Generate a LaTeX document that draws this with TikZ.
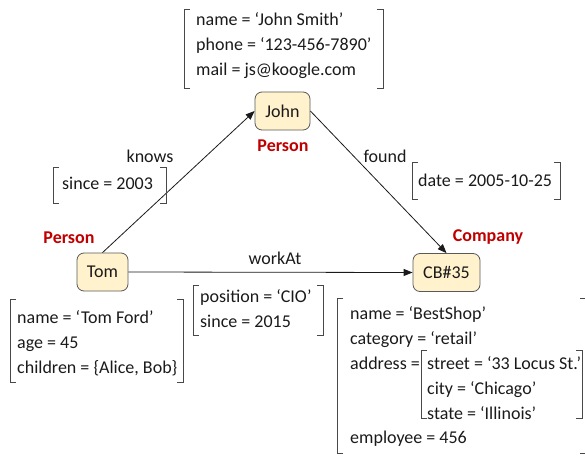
\documentclass[tikz,border=0pt]{standalone}
\usepackage{fontspec}
\setmainfont{Carlito}
\usetikzlibrary{arrows.meta}
\definecolor{nodefill}{RGB}{255,242,204}
\definecolor{typered}{RGB}{192,0,0}
\definecolor{inkgray}{RGB}{26,26,26}
% brackets round the property lists
\newcommand{\brkL}[3]{\draw[brk] (#1+6,#2) -- (#1,#2) -- (#1,#3) -- (#1+6,#3);}
\newcommand{\brkR}[3]{\draw[brk] (#1-6,#2) -- (#1,#2) -- (#1,#3) -- (#1-6,#3);}

\begin{document}
\begin{tikzpicture}[x=1pt,y=-1pt,
  txt/.style={font=\fontsize{18}{25}\selectfont, text=inkgray},
  entity/.style={txt, draw=black!65, fill=nodefill, rounded corners=7pt, line width=0.8pt, minimum height=38pt, inner sep=0pt},
  typelabel/.style={font=\bfseries\fontsize{18}{25}\selectfont, text=typered, inner sep=0pt},
  props/.style={txt, align=left, inner sep=0pt, anchor=north west},
  edgelabel/.style={txt, inner sep=0pt},
  rel/.style={draw=inkgray, line width=0.8pt, -{Triangle[length=9pt,width=7pt]}},
  brk/.style={draw=inkgray!80, line width=0.9pt}]
\useasboundingbox (0,0) rectangle (585,457);

% Entities
\node[entity, minimum width=55pt] (john) at (282.5,111) {John};
\node[entity, minimum width=51pt] (tom) at (102.5,272) {Tom};
\node[entity, minimum width=67pt] (cb) at (446.5,272.5) {CB\#35};

% Types
\node[typelabel] (johnType) at (283,146) {Person};
\node[typelabel] (tomType) at (69,238) {Person};
\node[typelabel] (cbType) at (488,237) {Company};

% Relations
\draw[rel] (tom.north) -- (john.west);
\draw[rel] (john.east) -- (cb.north);
\draw[rel] (tom.east) -- (cb.west);

\node[edgelabel] (knowsLbl) at (150,156) {knows};
\node[edgelabel] (foundLbl) at (385,156) {found};
\node[edgelabel] (workLbl) at (275,258) {workAt};

% Property lists
\node[props] (johnProps) at (196,12) {name = ‘John Smith’\\ phone = ‘123-456-7890’\\ mail = js@koogle.com};
\brkL{184}{9}{88} \brkR{383}{9}{88}

\node[props] (knowsProps) at (62,177) {since = 2003};
\brkL{53}{167}{203} \brkR{166}{167}{203}

\node[props] (foundProps) at (418,174) {date = 2005-10-25};
\brkL{412}{162}{199} \brkR{560}{162}{199}

\node[props] (tomProps) at (17,310) {name = ‘Tom Ford’\\ age = 45\\ children = \{Alice, Bob\}};
\brkL{10}{299}{382} \brkR{183}{299}{382}

\node[props] (workProps) at (200,289) {position = ‘CIO’\\ since = 2015};
\brkL{193}{285}{335} \brkR{323}{285}{335}

\node[props] (cbProps) at (350,306) {name = ‘BestShop’\\ category = ‘retail’\\ address =};
\node[props] (addrProps) at (427,356) {street = ‘33 Locus St.’\\ city = ‘Chicago’\\ state = ‘Illinois’};
\node[props] (empProps) at (350,431) {employee = 456};
\brkL{421}{350}{418} \brkR{582}{350}{418}
\brkL{337}{298}{453} \brkR{586}{298}{453}

\end{tikzpicture}
\end{document}
